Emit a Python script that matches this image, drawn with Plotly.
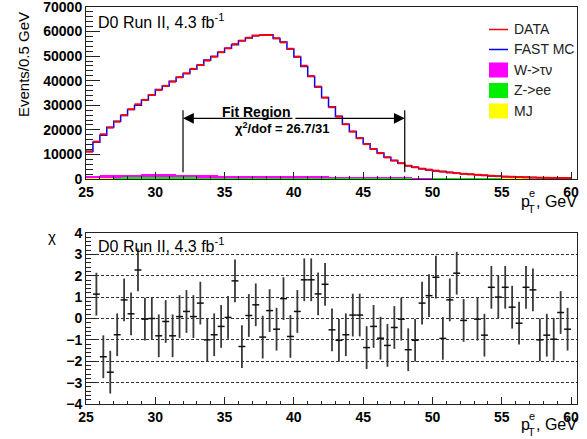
import plotly.graph_objects as go

W, H = 587, 439

# binning of the pT histogram
pt_lo = 25.0
bin_w = 0.5
n_bins = 70

# events per 0.5 GeV, bins from 25 to 60 GeV
data_events = [11100, 15200, 18200, 20900, 23300, 26000, 28400, 30400, 32200, 34200,
               36200, 37900, 39600, 41400, 43000, 44800, 46400, 48200, 49800, 51600,
               53200, 54900, 56300, 57500, 58300, 58600, 58600, 57300, 55600, 53000,
               49800, 46100, 41900, 37600, 33100, 29200, 25400, 22300, 19300, 16600,
               14200, 12200, 10500, 8800, 7500, 6400, 5400, 4800, 4200, 3800,
               3400, 3000, 2700, 2400, 2100, 1900, 1700, 1500, 1300, 1150,
               1000, 900, 800, 700, 620, 550, 500, 450, 400, 360]
mc_events = [11300, 15000, 17800, 21100, 23500, 25800, 28300, 30000, 32200, 34200,
             36400, 37800, 39800, 41400, 42900, 44700, 46300, 48400, 49900, 51600,
             53200, 54600, 56300, 57400, 58400, 58500, 58700, 57200, 55800, 52900,
             49700, 45800, 41700, 37400, 33200, 29400, 25500, 22300, 19300, 16700,
             14300, 12200, 10600, 8900, 7500, 6400, 5400, 4800, 4200, 3700,
             3300, 3100, 2600, 2300, 2100, 1900, 1700, 1500, 1250, 1120,
             960, 890, 770, 690, 600, 520, 500, 440, 390, 360]
w_tau = [500, 550, 700, 750, 800, 850, 900, 1100, 1150, 1200,
         1200, 1200, 1200, 1150, 1150, 1100, 1100, 900, 850, 800,
         800, 750, 700, 700, 650, 600, 550, 500, 450, 400,
         300, 250, 200, 180, 150, 120, 100, 80, 60, 50,
         40, 30, 25, 20, 15, 10, 10, 5, 5, 5,
         0, 0, 0, 0, 0, 0, 0, 0, 0, 0,
         0, 0, 0, 0, 0, 0, 0, 0, 0, 0]
z_ee = [300, 300, 320, 320, 330, 330, 330, 340, 340, 340,
        340, 340, 340, 340, 340, 330, 330, 330, 330, 330,
        330, 330, 330, 340, 340, 350, 360, 380, 400, 420,
        440, 460, 480, 500, 520, 540, 560, 560, 560, 560,
        550, 530, 500, 470, 430, 380, 320, 250, 180, 120,
        80, 60, 40, 30, 20, 15, 10, 10, 5, 5,
        0, 0, 0, 0, 0, 0, 0, 0, 0, 0]
mj = [450, 430, 420, 410, 400, 390, 380, 370, 360, 350,
      340, 330, 320, 310, 300, 290, 280, 280, 270, 260,
      250, 240, 240, 230, 220, 210, 200, 200, 190, 180,
      180, 170, 160, 160, 150, 150, 140, 140, 130, 130,
      120, 120, 110, 110, 100, 100, 100, 90, 90, 90,
      80, 80, 80, 70, 70, 70, 60, 60, 60, 60,
      50, 50, 50, 50, 50, 40, 40, 40, 40, 40]

# chi = (data - MC) / sigma per bin (None where no point is drawn)
chi = [None, 1.14, -1.79, -2.51, -0.76, 0.87, 0.22, 2.27, -0.03, 0.0,
       -0.81, -0.14, -0.81, 0.09, 0.33, 0.09, 0.72, -1.0, -0.76, -0.37,
       0.05, 1.76, -1.31, 0.14, 0.64, -0.87, 0.37, -0.5, 0.93, -0.84,
       0.33, 1.81, 1.81, 1.15, 1.6, -0.53, -1.02, -0.76, 0.16, 0.16,
       -1.36, -0.37, -0.92, -1.26, -0.42, -0.03, -1.46, -1.02, 0.72, 1.07,
       1.93, -0.93, 0.87, 2.12, -0.09, None, -0.03, -0.78, 1.46, 1.0,
       1.46, 0.53, -0.22, 1.46, 1.34, -1.0, -0.78, -0.97, 0.28, -0.5]
chi_err = 1.0

fit_lo, fit_hi = 32, 48
fit_text = "χ<sup>2</sup>/dof = 26.7/31"
lumi_text = "D0 Run II, 4.3 fb<sup>-1</sup>"

edges = [pt_lo + bin_w * i for i in range(n_bins + 1)]
centers = [pt_lo + bin_w * (i + 0.5) for i in range(n_bins)]


def px(x):
    return x / W


def py(y):
    return 1 - y / H


FONT = "Liberation Sans, Arial, sans-serif"

fig = go.Figure()

# backgrounds, stacked at the bottom
for vals, col in [(mj, "#ffff00"), (z_ee, "#00ee00"), (w_tau, "#ff00ff")]:
    fig.add_trace(go.Bar(x=centers, y=vals, width=bin_w, marker_color=col,
                         marker_line_width=0, xaxis="x", yaxis="y"))

# FAST MC as step histogram
fig.add_trace(go.Scatter(x=edges, y=mc_events + [mc_events[-1]], mode="lines",
                         line=dict(color="#0000ff", width=1.5, shape="hv"),
                         xaxis="x", yaxis="y"))

# DATA as horizontal bin segments
fig.add_trace(go.Scatter(x=centers, y=data_events, mode="markers",
                         marker=dict(size=2, color="#ff0000", opacity=0),
                         error_x=dict(type="constant", value=bin_w / 2, width=0,
                                      thickness=2, color="#ff0000"),
                         xaxis="x", yaxis="y"))

# chi panel
fig.add_trace(go.Scatter(x=centers, y=chi, mode="markers",
                         marker=dict(size=2, color="#111111", opacity=0),
                         error_x=dict(type="constant", value=bin_w / 2, width=0,
                                      thickness=1.5, color="#111111"),
                         error_y=dict(type="constant", value=chi_err, width=0,
                                      thickness=1.8, color="#3a3a3a"),
                         xaxis="x2", yaxis="y2"))

x_dom = [px(86), px(577)]
x_rng = [25, 60.43]
tickfont = dict(family=FONT, size=14, color="#000000", weight="bold")

xcommon = dict(range=x_rng, domain=x_dom, showline=True, mirror=True,
               linecolor="#222222", linewidth=1, ticks="inside", ticklen=7,
               tickcolor="#222222", tickvals=[25, 30, 35, 40, 45, 50, 55, 60],
               minor=dict(ticks="inside", ticklen=3.5, dtick=1, tickcolor="#222222"),
               showgrid=False, zeroline=False, tickfont=tickfont, automargin=False,
               ticklabeloverflow="allow")

fig.update_layout(
    width=W, height=H,
    margin=dict(l=0, r=0, t=0, b=0, autoexpand=False),
    paper_bgcolor="white", plot_bgcolor="white",
    showlegend=False,
    barmode="stack", bargap=0,
    xaxis=dict(anchor="y", **xcommon),
    xaxis2=dict(anchor="y2", **xcommon),
    yaxis=dict(range=[0, 70000], domain=[py(179), py(7)], anchor="x",
               showline=True, mirror=True, linecolor="#222222", linewidth=1,
               ticks="inside", ticklen=14, tickcolor="#222222",
               tickvals=[0, 10000, 20000, 30000, 40000, 50000, 60000, 70000],
               tickformat="d", ticklabeloverflow="allow",
               minor=dict(ticks="inside", ticklen=7, dtick=2000, tickcolor="#222222"),
               showgrid=False, zeroline=False, tickfont=tickfont, automargin=False),
    yaxis2=dict(range=[-4, 4], domain=[py(404), py(233)], anchor="x2",
                showline=True, mirror=True, linecolor="#222222", linewidth=1,
                ticks="inside", ticklen=10, tickcolor="#222222",
                tickvals=[-4, -3, -2, -1, 0, 1, 2, 3, 4], ticklabeloverflow="allow",
                minor=dict(ticks="inside", ticklen=5, dtick=0.2, tickcolor="#222222"),
                showgrid=True, gridcolor="#333333", gridwidth=1, griddash="3px,2px",
                zeroline=False, tickfont=tickfont, automargin=False),
)

# fit region markers
for xv in (fit_lo, fit_hi):
    fig.add_shape(type="line", xref="x", yref="y", x0=xv, x1=xv, y0=2700, y1=28000,
                  line=dict(color="#000000", width=1.2))
mid = (fit_lo + fit_hi) / 2
for xv in (fit_lo, fit_hi):
    fig.add_annotation(x=xv, y=24700, ax=mid, ay=24700, xref="x", yref="y",
                       axref="x", ayref="y", text="", showarrow=True,
                       arrowhead=2, arrowsize=1.8, arrowwidth=1.2, arrowcolor="#000000",
                       standoff=0)


def label(text, x, y, size, xanchor="left", bold=False, angle=0, color="#000000"):
    fig.add_annotation(text=text, x=px(x), y=py(y), xref="paper", yref="paper",
                       xanchor=xanchor, yanchor="middle", showarrow=False,
                       textangle=angle,
                       font=dict(family=FONT, size=size, color=color,
                                 weight="bold" if bold else "normal"))


label("Fit Region", 256, 112, 14, xanchor="center", bold=True)
label(fit_text, 282, 127.5, 13, xanchor="center", bold=True)
label(lumi_text, 96, 21, 16)
label(lumi_text, 96, 245, 16)
label("Events/0.5 GeV", 24, 65, 15, xanchor="center", angle=-90)
label("χ", 52, 236, 15, xanchor="center")

for dy in (0, 223):
    label("p", 519, 201 + dy, 16)
    label("e", 527, 193 + dy, 11)
    label("T", 526, 208.5 + dy, 11)
    label(", GeV", 534, 201 + dy, 16)

# legend
leg_names = ["DATA", "FAST MC", "W->τν", "Z->ee", "MJ"]
leg_y = [29.5, 49.5, 70, 90.5, 111]
for name, yy, kind, col in zip(leg_names, leg_y,
                               ["line", "line", "box", "box", "box"],
                               ["#ff0000", "#0000ff", "#ff00ff", "#00ee00", "#ffff00"]):
    if kind == "line":
        fig.add_shape(type="line", xref="paper", yref="paper",
                      x0=px(489), x1=px(508), y0=py(yy), y1=py(yy),
                      line=dict(color=col, width=1.5))
    else:
        fig.add_shape(type="rect", xref="paper", yref="paper",
                      x0=px(489), x1=px(508), y0=py(yy + 7.5), y1=py(yy - 7.5),
                      fillcolor=col, line=dict(width=0))
    label(name, 512, yy, 14, color="#222222")

# page body has a default margin; drop it so the figure sits at the corner
fig.write_html("out.html", config={"displayModeBar": False},
               post_script="document.body.style.margin='0';")
